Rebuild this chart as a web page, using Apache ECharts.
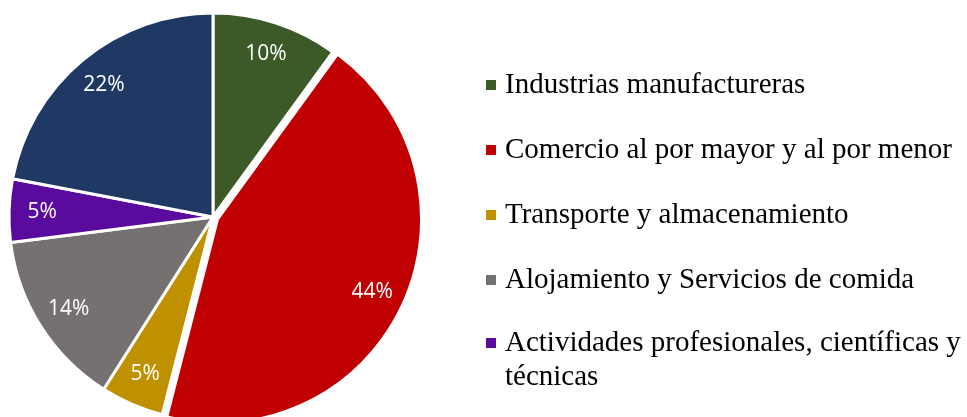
<!DOCTYPE html>
<html>
<head>
<meta charset="utf-8">
<script src="https://cdn.jsdelivr.net/npm/echarts@6/dist/echarts.min.js"></script>
<style>
html,body{margin:0;padding:0;background:#fff;}
#chart{width:967px;height:417px;}
</style>
</head>
<body>
<div id="chart"></div>
<script>
const categories = [
  'Industrias manufactureras',
  'Comercio al por mayor y al por menor',
  'Transporte y almacenamiento',
  'Alojamiento y Servicios de comida',
  'Actividades profesionales, científicas y técnicas',
  'Otras actividades'
];
const values = [10, 44, 5, 14, 5, 22];
const colors = ['#3B5A27', '#C00000', '#BF9000', '#767171', '#5B0A9E', '#203864'];
const explodedIndex = 1;

const pieData = categories.map((c, i) => ({
  name: c, value: values[i],
  selected: i === explodedIndex,
  itemStyle: { color: colors[i] },
  select: { itemStyle: { color: colors[i], borderColor: '#fff', borderWidth: 3 } }
}));
const labelData = categories.map((c, i) => ({ name: c, value: values[i], selected: i === explodedIndex }));

const legendText = {
  fontFamily: 'Liberation Serif',
  fontSize: 29,
  color: '#000',
  lineHeight: 34,
  padding: [0, 0, 0, 3]
};

const chart = echarts.init(document.getElementById('chart'), null, { renderer: 'canvas' });
chart.setOption({
  animation: false,
  backgroundColor: '#fff',
  legend: [
    {
      orient: 'vertical',
      left: 484,
      top: 68,
      padding: 0,
      itemWidth: 12,
      itemHeight: 12,
      itemGap: 31,
      icon: 'rect',
      selectedMode: false,
      data: categories.slice(0, 4),
      textStyle: legendText
    },
    {
      orient: 'vertical',
      left: 484,
      top: 292,
      padding: 0,
      itemWidth: 12,
      itemHeight: 12,
      icon: 'rect',
      selectedMode: false,
      data: categories.slice(4, 5),
      formatter: n => '\n' + n.replace(' técnicas', '\ntécnicas'),
      textStyle: legendText
    }
  ],
  series: [
    {
      type: 'pie',
      center: [213, 217],
      radius: [0, 204],
      startAngle: 90,
      clockwise: true,
      silent: true,
      selectedMode: 'single',
      selectedOffset: 5,
      label: { show: false },
      labelLine: { show: false },
      itemStyle: { borderColor: '#fff', borderWidth: 3 },
      emphasis: { disabled: true },
      data: pieData
    },
    {
      type: 'pie',
      center: [213, 217],
      radius: [132, 204],
      startAngle: 90,
      clockwise: true,
      silent: true,
      selectedMode: 'single',
      selectedOffset: 5,
      legendHoverLink: false,
      itemStyle: { color: 'rgba(0,0,0,0)' },
      select: { itemStyle: { color: 'rgba(0,0,0,0)' } },
      label: {
        show: true,
        position: 'inside',
        formatter: '{c}%',
        color: '#fff',
        fontFamily: 'Open Sans',
        fontSize: 21
      },
      labelLine: { show: false },
      emphasis: { disabled: true },
      data: labelData
    }
  ]
});
</script>
</body>
</html>
